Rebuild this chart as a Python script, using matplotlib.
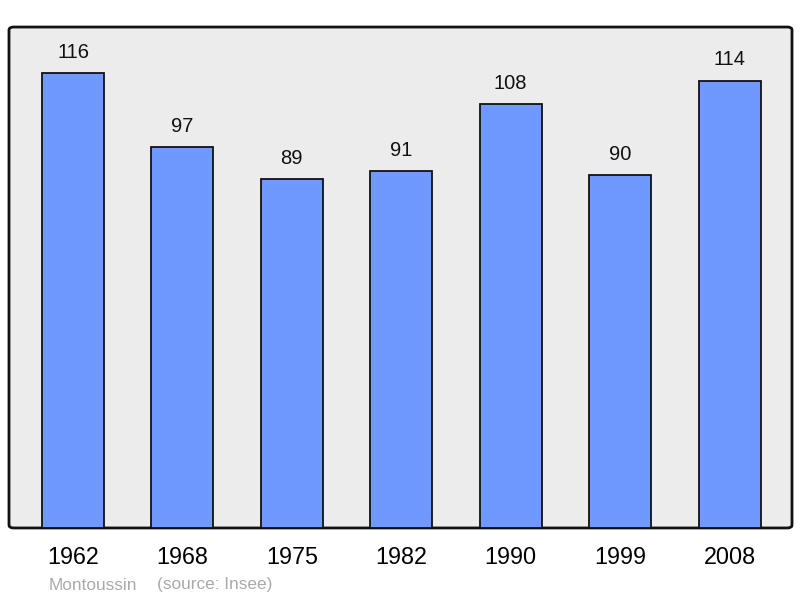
import matplotlib.pyplot as plt
from matplotlib.patches import FancyBboxPatch

plt.rcParams['font.family'] = ['Liberation Sans', 'DejaVu Sans']

years = ['1962', '1968', '1975', '1982', '1990', '1999', '2008']
population = [116, 97, 89, 91, 108, 90, 114]

fig = plt.figure(figsize=(8, 5.98), dpi=100)
ax = fig.add_axes([0.01125, 0.1171, 0.97875, 0.8377])

ax.set_facecolor('none')
bg = FancyBboxPatch((0, 0), 1, 1, boxstyle='round,pad=0,rounding_size=0.006',
                    transform=ax.transAxes, facecolor='#ececec', edgecolor='#111111',
                    linewidth=2, zorder=0, clip_on=False)
ax.add_patch(bg)

x = range(len(years))
bars = ax.bar(x, population, width=0.567, color='#7099ff', edgecolor='#111111',
              linewidth=1.3, zorder=2)

for xi, v in zip(x, population):
    ax.annotate(str(v), (xi, v), xytext=(0, 15), textcoords='offset points',
                ha='center', va='center', fontsize=14.5, color='#111111')

ax.set_xlim(-0.585, 6.571)
ax.set_ylim(0, 127.7)
ax.set_xticks(list(x))
ax.set_xticklabels(years, fontsize=16.8)
ax.tick_params(axis='x', length=0, pad=13)
ax.set_yticks([])
for s in ax.spines.values():
    s.set_visible(False)

fig.text(49 / 800, 1 - 585 / 598, 'Montoussin', color='#aaaaaa', fontsize=12.4, va='center')
fig.text(157 / 800, 1 - 585 / 598, '(source: Insee)', color='#aaaaaa', fontsize=12.4, va='center')

fig.savefig('out.png', dpi=100)
